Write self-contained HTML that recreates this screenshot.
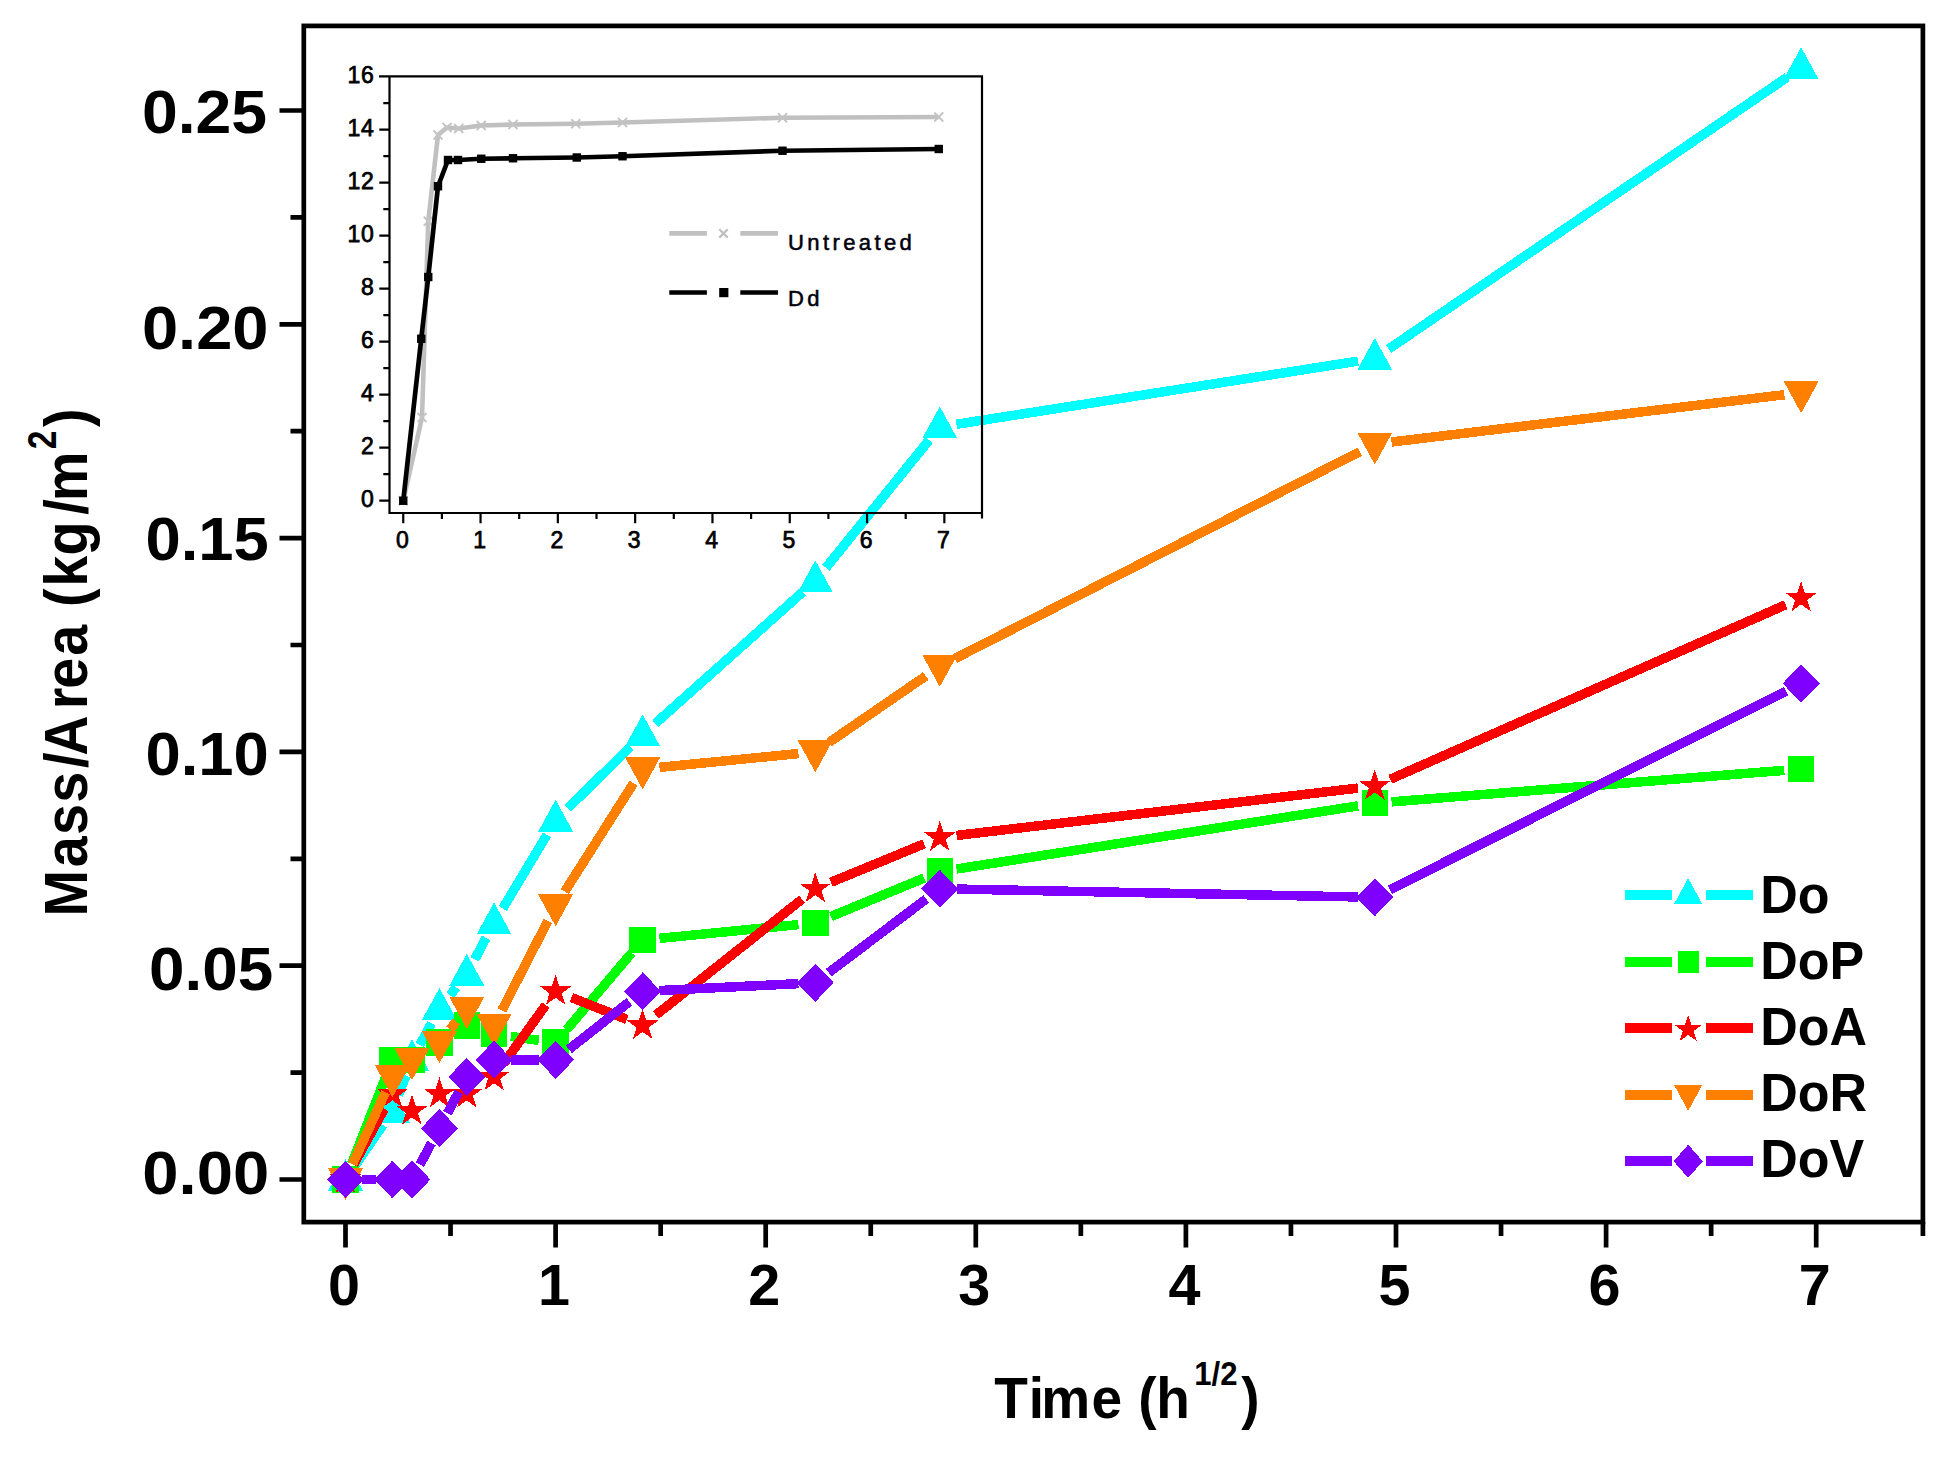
<!DOCTYPE html>
<html lang="en"><head><meta charset="utf-8"><title>Mass/Area vs Time</title>
<style>
html,body{margin:0;padding:0;background:#fff}
body{width:1953px;height:1459px;overflow:hidden}
svg{display:block}
text{white-space:pre}
</style></head><body>
<svg width="1953" height="1459" viewBox="0 0 1953 1459">
<rect width="1953" height="1459" fill="#fff"/>
<g shape-rendering="crispEdges">
<g fill="#00ffff" stroke="#00ffff" stroke-width="9.5">
<path d="M355.07 1165.57L382.91 1125.02M398.47 1095.28L405.95 1075.57M419.93 1044.88L431.47 1023.35M450.01 995.26L456.25 987.45M474.73 959.33L486.13 937.86M502.75 908.45L546.91 834.81M567.65 808.47L630.57 746.64M655.24 723.55L802.68 592.11M825.92 567.72L929.13 440.07M956.45 424.3L1358.08 361.13M1388.74 348.99L1787.15 77.26" fill="none"/>
<g stroke="none">
<polygon points="345.5,1159.02 363,1191.02 328,1191.02"/>
<polygon points="392.48,1090.6 409.98,1122.6 374.98,1122.6"/>
<polygon points="411.94,1039.29 429.44,1071.29 394.44,1071.29"/>
<polygon points="439.46,987.98 456.96,1019.98 421.96,1019.98"/>
<polygon points="466.8,953.77 484.3,985.77 449.3,985.77"/>
<polygon points="494.06,902.46 511.56,934.46 476.56,934.46"/>
<polygon points="555.6,799.84 573.1,831.84 538.1,831.84"/>
<polygon points="642.63,714.32 660.13,746.32 625.13,746.32"/>
<polygon points="815.3,560.38 832.8,592.38 797.8,592.38"/>
<polygon points="939.75,406.44 957.25,438.44 922.25,438.44"/>
<polygon points="1374.78,338.03 1392.28,370.03 1357.28,370.03"/>
<polygon points="1801.12,47.26 1818.62,79.26 1783.62,79.26"/>
</g></g>
<g fill="#00ff00" stroke="#00ff00" stroke-width="9.5">
<path d="M351.67 1163.77L386.31 1075.5M510.8 1036.44L538.86 1040.34M566.53 1029.78L631.7 952.93M659.44 938.38L798.48 924.61M830.92 916.5L924.13 878.07M956.45 869L1358.08 805.84M1391.62 801.86L1784.27 770.36" fill="none"/>
<g stroke="none">
<polygon points="332.3,1166.3 358.7,1166.3 358.7,1192.7 332.3,1192.7"/>
<polygon points="379.28,1046.57 405.68,1046.57 405.68,1072.97 379.28,1072.97"/>
<polygon points="398.74,1046.57 425.14,1046.57 425.14,1072.97 398.74,1072.97"/>
<polygon points="426.26,1029.47 452.66,1029.47 452.66,1055.87 426.26,1055.87"/>
<polygon points="453.6,1012.36 480,1012.36 480,1038.76 453.6,1038.76"/>
<polygon points="480.86,1020.92 507.26,1020.92 507.26,1047.32 480.86,1047.32"/>
<polygon points="542.4,1029.47 568.8,1029.47 568.8,1055.87 542.4,1055.87"/>
<polygon points="629.43,926.84 655.83,926.84 655.83,953.24 629.43,953.24"/>
<polygon points="802.1,909.74 828.5,909.74 828.5,936.14 802.1,936.14"/>
<polygon points="926.55,858.43 952.95,858.43 952.95,884.83 926.55,884.83"/>
<polygon points="1361.58,790.01 1387.98,790.01 1387.98,816.41 1361.58,816.41"/>
<polygon points="1787.92,755.8 1814.32,755.8 1814.32,782.2 1787.92,782.2"/>
</g></g>
<g fill="#ff0000" stroke="#ff0000" stroke-width="9.5">
<path d="M353.64 1164.69L384.34 1108.79M503.93 1063.16L545.73 1005.07M571.33 997.54L626.9 1019.38M655.87 1015.07L802.05 899.23M830.92 882.29L924.13 843.86M956.54 835.44L1357.99 788.09M1390.24 779.28L1785.65 604.79" fill="none"/>
<g stroke="none">
<polygon points="345.5,1162.8 349.25,1174.34 361.38,1174.34 351.57,1181.47 355.32,1193.01 345.5,1185.88 335.68,1193.01 339.43,1181.47 329.62,1174.34 341.75,1174.34"/>
<polygon points="392.48,1077.28 396.23,1088.82 408.36,1088.82 398.55,1095.95 402.3,1107.49 392.48,1100.36 382.66,1107.49 386.41,1095.95 376.6,1088.82 388.73,1088.82"/>
<polygon points="411.94,1094.38 415.69,1105.92 427.82,1105.92 418.01,1113.06 421.76,1124.59 411.94,1117.46 402.12,1124.59 405.87,1113.06 396.06,1105.92 408.19,1105.92"/>
<polygon points="439.46,1077.28 443.21,1088.82 455.34,1088.82 445.53,1095.95 449.28,1107.49 439.46,1100.36 429.64,1107.49 433.39,1095.95 423.58,1088.82 435.71,1088.82"/>
<polygon points="466.8,1077.28 470.55,1088.82 482.68,1088.82 472.87,1095.95 476.62,1107.49 466.8,1100.36 456.99,1107.49 460.73,1095.95 450.92,1088.82 463.05,1088.82"/>
<polygon points="494.06,1060.18 497.81,1071.71 509.95,1071.72 500.13,1078.85 503.88,1090.39 494.06,1083.26 484.25,1090.39 488,1078.85 478.18,1071.72 490.31,1071.71"/>
<polygon points="555.6,974.66 559.35,986.19 571.48,986.2 561.67,993.33 565.42,1004.87 555.6,997.74 545.78,1004.87 549.53,993.33 539.72,986.2 551.85,986.19"/>
<polygon points="642.63,1008.86 646.38,1020.4 658.51,1020.4 648.69,1027.54 652.44,1039.07 642.63,1031.94 632.81,1039.07 636.56,1027.54 626.74,1020.4 638.88,1020.4"/>
<polygon points="815.3,872.03 819.05,883.57 831.18,883.57 821.37,890.7 825.11,902.24 815.3,895.11 805.48,902.24 809.23,890.7 799.42,883.57 811.55,883.57"/>
<polygon points="939.75,820.72 943.5,832.26 955.64,832.26 945.82,839.39 949.57,850.93 939.75,843.8 929.94,850.93 933.69,839.39 923.87,832.26 936,832.26"/>
<polygon points="1374.78,769.41 1378.53,780.95 1390.66,780.95 1380.84,788.08 1384.59,799.62 1374.78,792.49 1364.96,799.62 1368.71,788.08 1358.89,780.95 1371.03,780.95"/>
<polygon points="1801.12,581.26 1804.87,592.8 1817,592.8 1807.18,599.94 1810.93,611.47 1801.12,604.34 1791.3,611.47 1795.05,599.94 1785.23,592.8 1797.37,592.8"/>
</g></g>
<g fill="#ff8000" stroke="#ff8000" stroke-width="9.5">
<path d="M352.53 1164.13L385.45 1092.24M450.01 1029.47L456.25 1021.66M501.79 1010.53L547.87 920.87M564.67 891.58L633.56 783.26M659.44 767.34L798.48 753.57M829.23 742.33L925.82 675.95M954.8 658.69L1359.73 451.72M1391.55 442.01L1784.34 394.74" fill="none"/>
<g stroke="none">
<polygon points="345.5,1199.98 363,1167.98 328,1167.98"/>
<polygon points="392.48,1097.36 409.98,1065.36 374.98,1065.36"/>
<polygon points="411.94,1080.25 429.44,1048.25 394.44,1048.25"/>
<polygon points="439.46,1063.15 456.96,1031.15 421.96,1031.15"/>
<polygon points="466.8,1028.94 484.3,996.94 449.3,996.94"/>
<polygon points="494.06,1046.04 511.56,1014.04 476.56,1014.04"/>
<polygon points="555.6,926.32 573.1,894.32 538.1,894.32"/>
<polygon points="642.63,789.48 660.13,757.48 625.13,757.48"/>
<polygon points="815.3,772.38 832.8,740.38 797.8,740.38"/>
<polygon points="939.75,686.86 957.25,654.86 922.25,654.86"/>
<polygon points="1374.78,464.51 1392.28,432.51 1357.28,432.51"/>
<polygon points="1801.12,413.2 1818.62,381.2 1783.62,381.2"/>
</g></g>
<g fill="#8000ff" stroke="#8000ff" stroke-width="9.5">
<path d="M362.4 1179.5L375.58 1179.5M419.93 1164.61L431.47 1143.08M447.41 1113.27L458.85 1091.79M510.96 1059.77L538.7 1059.77M568.89 1049.33L629.34 1001.8M659.51 990.52L798.42 983.64M828.78 972.61L926.27 898.92M956.65 889.06L1357.88 896.95M1389.88 889.71L1786.01 691.06" fill="none"/>
<g stroke="none">
<polygon points="345.5,1160.5 364,1179.5 345.5,1198.5 327,1179.5"/>
<polygon points="392.48,1160.5 410.98,1179.5 392.48,1198.5 373.98,1179.5"/>
<polygon points="411.94,1160.5 430.44,1179.5 411.94,1198.5 393.44,1179.5"/>
<polygon points="439.46,1109.19 457.96,1128.19 439.46,1147.19 420.96,1128.19"/>
<polygon points="466.8,1057.88 485.3,1076.88 466.8,1095.88 448.3,1076.88"/>
<polygon points="494.06,1040.77 512.56,1059.77 494.06,1078.77 475.56,1059.77"/>
<polygon points="555.6,1040.77 574.1,1059.77 555.6,1078.77 537.1,1059.77"/>
<polygon points="642.63,972.36 661.13,991.36 642.63,1010.36 624.13,991.36"/>
<polygon points="815.3,963.8 833.8,982.8 815.3,1001.8 796.8,982.8"/>
<polygon points="939.75,869.73 958.25,888.73 939.75,907.73 921.25,888.73"/>
<polygon points="1374.78,878.28 1393.28,897.28 1374.78,916.28 1356.28,897.28"/>
<polygon points="1801.12,664.48 1819.62,683.48 1801.12,702.48 1782.62,683.48"/>
</g></g>
</g>
<g stroke="#000" fill="none" stroke-width="4.7">
<rect x="303.8" y="25.9" width="1619.1" height="1196.2"/>
<path d="M279.5 1179.5H303.8M279.5 965.7H303.8M279.5 751.9H303.8M279.5 538.1H303.8M279.5 324.3H303.8M279.5 110.5H303.8M290.5 1072.6H303.8M290.5 858.8H303.8M290.5 645H303.8M290.5 431.2H303.8M290.5 217.4H303.8M345.5 1222.1V1247.5M555.6 1222.1V1247.5M765.7 1222.1V1247.5M975.8 1222.1V1247.5M1185.9 1222.1V1247.5M1396 1222.1V1247.5M1606.1 1222.1V1247.5M1816.2 1222.1V1247.5M450.55 1222.1V1236M660.65 1222.1V1236M870.75 1222.1V1236M1080.85 1222.1V1236M1290.95 1222.1V1236M1501.05 1222.1V1236M1711.15 1222.1V1236M1922.9 1222.1V1236"/>
</g>
<g font-family="'Liberation Sans', Arial, sans-serif" font-weight="bold" fill="#000">
<text class="yl" x="141.9" y="132.5" font-size="61" textLength="125.2" lengthAdjust="spacingAndGlyphs">0.25</text>
<text class="yl" x="141.9" y="348.9" font-size="61" textLength="126.6" lengthAdjust="spacingAndGlyphs">0.20</text>
<text class="yl" x="145.4" y="560.4" font-size="61" textLength="123.4" lengthAdjust="spacingAndGlyphs">0.15</text>
<text class="yl" x="145.4" y="775" font-size="61" textLength="123.4" lengthAdjust="spacingAndGlyphs">0.10</text>
<text class="yl" x="149.1" y="990.4" font-size="61" textLength="124.2" lengthAdjust="spacingAndGlyphs">0.05</text>
<text class="yl" x="142.3" y="1193.9" font-size="61" textLength="126.9" lengthAdjust="spacingAndGlyphs">0.00</text>
<text class="xl" x="344" y="1304.5" font-size="57.5" text-anchor="middle">0</text>
<text class="xl" x="554.1" y="1304.5" font-size="57.5" text-anchor="middle">1</text>
<text class="xl" x="764.2" y="1304.5" font-size="57.5" text-anchor="middle">2</text>
<text class="xl" x="974.3" y="1304.5" font-size="57.5" text-anchor="middle">3</text>
<text class="xl" x="1184.4" y="1304.5" font-size="57.5" text-anchor="middle">4</text>
<text class="xl" x="1394.5" y="1304.5" font-size="57.5" text-anchor="middle">5</text>
<text class="xl" x="1604.6" y="1304.5" font-size="57.5" text-anchor="middle">6</text>
<text class="xl" x="1814.7" y="1304.5" font-size="57.5" text-anchor="middle">7</text>
<g id="xt" transform="translate(0 1418.3) scale(1 1.04)">
<text y="0" font-size="55" x="994.38 1028.66 1041.37 1091.6 1122.19 1138.26 1156.16">Time (h</text>
<text y="-32.02" font-size="31.1" x="1194.29 1211.59 1220.23">1/2</text>
<text y="0" font-size="55" x="1241.25">)</text>
</g>
<g id="yt" transform="translate(87 914) rotate(-90) scale(1 1.1)">
<text y="0" font-size="55.8" x="-2.53 46.77 78.94 111.34 146.06 158.21 204.72 225.32 258.27 289.3 307.12 327.3 358.61 399.16 412.72">Mass/Area (kg/m</text>
<text y="-26.31" font-size="33.5" x="464.64" transform="scale(1 1.08)">2</text>
<text y="0" font-size="55.8" x="487.05">)</text>
</g>
<text class="lg" transform="translate(1760.3 912.5) scale(1 1.03)" x="0" y="0" font-size="52">Do</text>
<text class="lg" transform="translate(1760.3 978.75) scale(1 1.03)" x="0" y="0" font-size="52">DoP</text>
<text class="lg" transform="translate(1760.3 1045) scale(1 1.03)" x="0" y="0" font-size="52">DoA</text>
<text class="lg" transform="translate(1760.3 1110.75) scale(1 1.03)" x="0" y="0" font-size="52">DoR</text>
<text class="lg" transform="translate(1760.3 1177) scale(1 1.03)" x="0" y="0" font-size="52">DoV</text>
</g>
<g shape-rendering="crispEdges">
<g fill="#00ffff" stroke="none">
<rect x="1625" y="889.5" width="47" height="10"/>
<rect x="1705.5" y="889.5" width="47" height="10"/>
<polygon points="1688.2,878.21 1702.55,904.45 1673.85,904.45"/>
</g>
<g fill="#00ff00" stroke="none">
<rect x="1625" y="957" width="47" height="10"/>
<rect x="1705.5" y="957" width="47" height="10"/>
<polygon points="1677.64,951.44 1698.76,951.44 1698.76,972.56 1677.64,972.56"/>
</g>
<g fill="#ff0000" stroke="none">
<rect x="1625" y="1023.25" width="47" height="10"/>
<rect x="1705.5" y="1023.25" width="47" height="10"/>
<polygon points="1688.2,1014.55 1691.5,1024.71 1702.18,1024.71 1693.54,1030.98 1696.84,1041.14 1688.2,1034.86 1679.56,1041.14 1682.86,1030.98 1674.22,1024.71 1684.9,1024.71"/>
</g>
<g fill="#ff8000" stroke="none">
<rect x="1625" y="1089.5" width="47" height="10"/>
<rect x="1705.5" y="1089.5" width="47" height="10"/>
<polygon points="1688.2,1110.79 1702.55,1084.55 1673.85,1084.55"/>
</g>
<g fill="#8000ff" stroke="none">
<rect x="1625" y="1156.25" width="47" height="10"/>
<rect x="1705.5" y="1156.25" width="47" height="10"/>
<polygon points="1688.2,1144.65 1702.8,1161.25 1688.2,1177.85 1673.6,1161.25"/>
</g>
</g>
<g stroke="#000" fill="none" stroke-width="2.2">
<path d="M379 76.4H982V518.6M389.5 76.4V513H982M379.3 500.6H389.5M379.3 447.6H389.5M379.3 394.6H389.5M379.3 341.6H389.5M379.3 288.6H389.5M379.3 235.6H389.5M379.3 182.6H389.5M379.3 129.6H389.5M383.3 474.1H389.5M383.3 421.1H389.5M383.3 368.1H389.5M383.3 315.1H389.5M383.3 262.1H389.5M383.3 209.1H389.5M383.3 156.1H389.5M383.3 103.1H389.5M403.25 513V523.3M441.9 513V518.9M480.55 513V523.3M519.2 513V518.9M557.85 513V523.3M596.5 513V518.9M635.15 513V523.3M673.8 513V518.9M712.45 513V523.3M751.1 513V518.9M789.75 513V523.3M828.4 513V518.9M867.05 513V523.3M905.7 513V518.9M944.35 513V523.3"/>
</g>
<g font-family="'Liberation Sans', Arial, sans-serif" fill="#000" font-size="23" stroke="#000" stroke-width="0.75" letter-spacing="0.8">
<text class="iy" x="374.6" y="506.9" text-anchor="end">0</text>
<text class="iy" x="374.6" y="453.9" text-anchor="end">2</text>
<text class="iy" x="374.6" y="400.9" text-anchor="end">4</text>
<text class="iy" x="374.6" y="347.9" text-anchor="end">6</text>
<text class="iy" x="374.6" y="294.9" text-anchor="end">8</text>
<text class="iy" x="374.6" y="241.9" text-anchor="end">10</text>
<text class="iy" x="374.6" y="188.9" text-anchor="end">12</text>
<text class="iy" x="374.6" y="135.9" text-anchor="end">14</text>
<text class="iy" x="374.6" y="82.9" text-anchor="end">16</text>
<text class="ix" x="402.75" y="548" text-anchor="middle">0</text>
<text class="ix" x="480.05" y="548" text-anchor="middle">1</text>
<text class="ix" x="557.35" y="548" text-anchor="middle">2</text>
<text class="ix" x="634.65" y="548" text-anchor="middle">3</text>
<text class="ix" x="711.95" y="548" text-anchor="middle">4</text>
<text class="ix" x="789.25" y="548" text-anchor="middle">5</text>
<text class="ix" x="866.55" y="548" text-anchor="middle">6</text>
<text class="ix" x="943.85" y="548" text-anchor="middle">7</text>
</g>
<g fill="none" stroke-linejoin="round">
<polyline points="403.25,500.75 422,417.5 428.25,221.25 438,135 447,127.5 458.75,128.5 481.25,125.5 513,124.5 575.75,123.75 622.5,122.5 782.5,117.75 938.75,117" stroke="#c0c0c0" stroke-width="4.6"/>
<path d="M398.75 496.25l9 9m-9 0l9 -9M417.5 413l9 9m-9 0l9 -9M423.75 216.75l9 9m-9 0l9 -9M433.5 130.5l9 9m-9 0l9 -9M442.5 123l9 9m-9 0l9 -9M454.25 124l9 9m-9 0l9 -9M476.75 121l9 9m-9 0l9 -9M508.5 120l9 9m-9 0l9 -9M571.25 119.25l9 9m-9 0l9 -9M618 118l9 9m-9 0l9 -9M778 113.25l9 9m-9 0l9 -9M934.25 112.5l9 9m-9 0l9 -9" stroke="#c4c4c4" stroke-width="1.8"/>
<polyline points="403.25,500.75 421.25,338.75 428.25,277 438,186.25 448,160 458,160 481.25,158.75 513,158.25 576.75,157.5 622.5,156.25 782.5,150.75 938.75,149" stroke="#000" stroke-width="4.7"/>
</g>
<g fill="#000">
<rect x="399.05" y="496.55" width="8.4" height="8.4"/>
<rect x="417.05" y="334.55" width="8.4" height="8.4"/>
<rect x="424.05" y="272.8" width="8.4" height="8.4"/>
<rect x="433.8" y="182.05" width="8.4" height="8.4"/>
<rect x="443.8" y="155.8" width="8.4" height="8.4"/>
<rect x="453.8" y="155.8" width="8.4" height="8.4"/>
<rect x="477.05" y="154.55" width="8.4" height="8.4"/>
<rect x="508.8" y="154.05" width="8.4" height="8.4"/>
<rect x="572.55" y="153.3" width="8.4" height="8.4"/>
<rect x="618.3" y="152.05" width="8.4" height="8.4"/>
<rect x="778.3" y="146.55" width="8.4" height="8.4"/>
<rect x="934.55" y="144.8" width="8.4" height="8.4"/>
</g>
<g>
<path d="M669.3 233.4H706.9M740.3 233.4H778" stroke="#c0c0c0" stroke-width="4.7" fill="none"/>
<path d="M719.3 229.2l8.4 8.4m-8.4 0l8.4 -8.4" stroke="#c0c0c0" stroke-width="2.3" fill="none"/>
<path d="M669.3 292.5H706.9M740.3 292.5H778" stroke="#000" stroke-width="4.7" fill="none"/>
<rect x="719.2" y="288" width="9.2" height="9.2" fill="#000"/>
</g>
<g font-family="'Liberation Sans', Arial, sans-serif" fill="#00000c" stroke="#00000c" stroke-width="0.55" font-size="22" letter-spacing="3.4">
<text id="il1" x="788" y="249.7">Untreated</text>
<text id="il2" x="788" y="306.2">Dd</text>
</g>
</svg>
</body></html>
